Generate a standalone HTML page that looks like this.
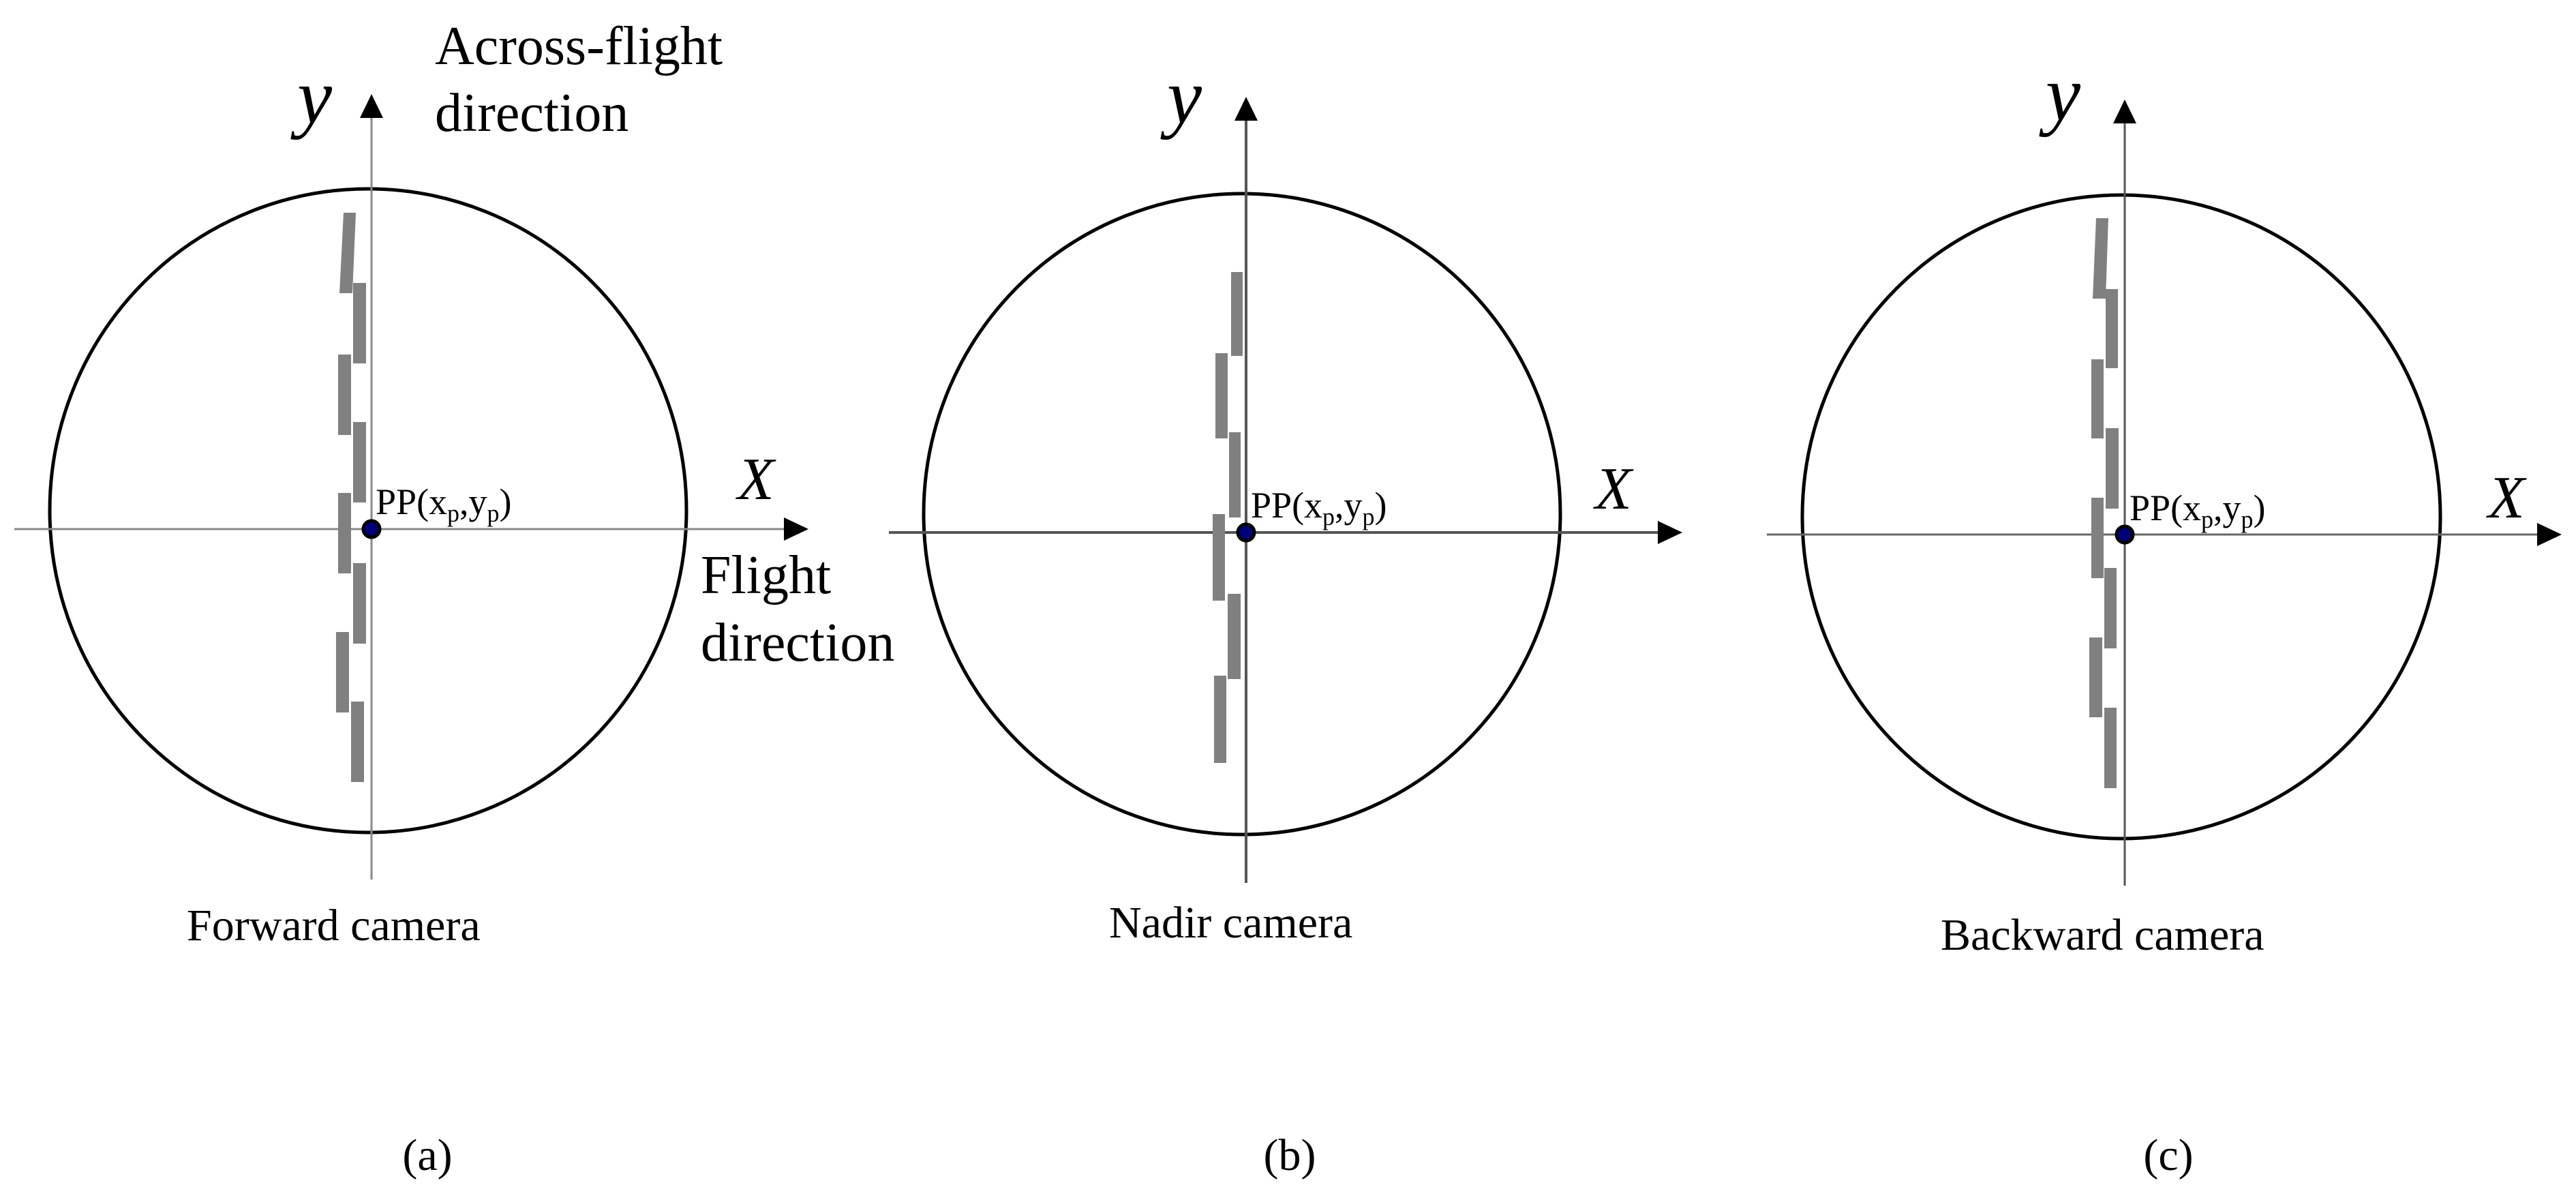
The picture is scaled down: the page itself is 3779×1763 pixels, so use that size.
<!DOCTYPE html>
<html><head><meta charset="utf-8"><style>
html,body{margin:0;padding:0;background:#fff;}
svg{display:block;}
text{font-family:"Liberation Serif",serif;fill:#000;}
.it{font-style:italic;}
</style></head><body>
<svg width="3779" height="1763" viewBox="0 0 3779 1763" xmlns="http://www.w3.org/2000/svg">
<!-- Panel a -->
<g>
<ellipse cx="540" cy="749" rx="467" ry="472" fill="none" stroke="#000" stroke-width="5"/>
<line x1="545" y1="170" x2="545" y2="1290" stroke="#888" stroke-width="3"/>
<polygon points="545,138 528,173 562,173" fill="#000"/>
<line x1="21" y1="776" x2="1150" y2="776" stroke="#888" stroke-width="3"/>
<polygon points="1186,776 1150,759 1150,793" fill="#000"/>
<g fill="#808080">
<polygon points="504,312 522,312 517,430 498,430"/>
<rect x="518" y="415" width="19" height="118"/>
<rect x="496" y="520" width="19" height="118"/>
<rect x="518" y="619" width="19" height="118"/>
<rect x="496" y="723" width="19" height="118"/>
<rect x="518" y="826" width="19" height="118"/>
<rect x="493" y="927" width="19" height="118"/>
<rect x="515" y="1029" width="19" height="118"/>
</g>
<circle cx="545" cy="776" r="12" fill="#00007a" stroke="#000" stroke-width="5"/>
<text x="436" y="180" class="it" font-size="115">y</text>
<text x="638" y="94" font-size="80">Across-flight</text>
<text x="638" y="192" font-size="80">direction</text>
<text x="1082" y="732" class="it" font-size="88">X</text>
<text x="1028" y="870" font-size="80">Flight</text>
<text x="1028" y="969" font-size="80">direction</text>
<text x="551" y="754" font-size="54">PP(x<tspan font-size="36" dy="11">p</tspan><tspan dy="-11">,y</tspan><tspan font-size="36" dy="11">p</tspan><tspan dy="-11">)</tspan></text>
<text x="274" y="1379" font-size="66">Forward camera</text>
</g>
<!-- Panel b -->
<g>
<ellipse cx="1822" cy="754" rx="467" ry="470" fill="none" stroke="#000" stroke-width="5"/>
<line x1="1828" y1="170" x2="1828" y2="1295" stroke="#555" stroke-width="4"/>
<polygon points="1828,142 1811,177 1845,177" fill="#000"/>
<line x1="1304" y1="781" x2="2432" y2="781" stroke="#555" stroke-width="4"/>
<polygon points="2468,781 2432,764 2432,798" fill="#000"/>
<g fill="#808080">
<rect x="1806" y="399" width="17" height="123"/>
<rect x="1783" y="518" width="18" height="125"/>
<rect x="1803" y="634" width="17" height="125"/>
<rect x="1779" y="754" width="18" height="127"/>
<rect x="1801" y="871" width="19" height="125"/>
<rect x="1781" y="991" width="18" height="128"/>
</g>
<circle cx="1828" cy="781" r="12" fill="#00007a" stroke="#000" stroke-width="5"/>
<text x="1712" y="180" class="it" font-size="115">y</text>
<text x="2340" y="746" class="it" font-size="88">X</text>
<text x="1835" y="759" font-size="54">PP(x<tspan font-size="36" dy="11">p</tspan><tspan dy="-11">,y</tspan><tspan font-size="36" dy="11">p</tspan><tspan dy="-11">)</tspan></text>
<text x="1627" y="1375" font-size="66">Nadir camera</text>
</g>
<!-- Panel c -->
<g>
<ellipse cx="3112" cy="758" rx="468" ry="472" fill="none" stroke="#000" stroke-width="5"/>
<line x1="3117" y1="175" x2="3117" y2="1299" stroke="#555" stroke-width="3"/>
<polygon points="3117,146 3100,181 3134,181" fill="#000"/>
<line x1="2592" y1="784" x2="3722" y2="784" stroke="#666" stroke-width="3"/>
<polygon points="3758,784 3722,767 3722,801" fill="#000"/>
<g fill="#808080">
<polygon points="3075,320 3093,320 3089,438 3070,438"/>
<rect x="3089" y="424" width="18" height="116"/>
<rect x="3068" y="527" width="18" height="116"/>
<rect x="3089" y="628" width="19" height="118"/>
<rect x="3068" y="730" width="18" height="118"/>
<rect x="3087" y="833" width="18" height="118"/>
<rect x="3065" y="935" width="19" height="117"/>
<rect x="3087" y="1038" width="18" height="118"/>
</g>
<circle cx="3117" cy="784" r="12" fill="#00007a" stroke="#000" stroke-width="5"/>
<text x="3001" y="176" class="it" font-size="115">y</text>
<text x="3650" y="759" class="it" font-size="88">X</text>
<text x="3124" y="763" font-size="54">PP(x<tspan font-size="36" dy="11">p</tspan><tspan dy="-11">,y</tspan><tspan font-size="36" dy="11">p</tspan><tspan dy="-11">)</tspan></text>
<text x="2847" y="1393" font-size="66">Backward camera</text>
</g>
<text x="627" y="1716" font-size="66" text-anchor="middle">(a)</text>
<text x="1892" y="1716" font-size="66" text-anchor="middle">(b)</text>
<text x="3181" y="1716" font-size="66" text-anchor="middle">(c)</text>
</svg>
</body></html>
